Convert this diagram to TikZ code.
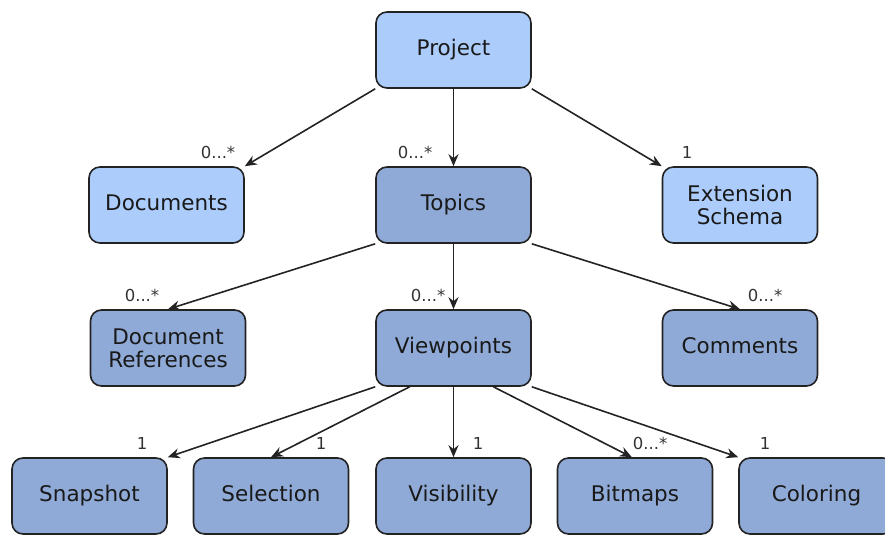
\documentclass[tikz,border=0pt]{standalone}
\usepackage{fontspec}
\setmainfont{DejaVu Sans}
\usetikzlibrary{arrows.meta,calc}
\definecolor{lightbox}{RGB}{172,204,252}
\definecolor{darkbox}{RGB}{143,170,214}
\definecolor{edge}{RGB}{35,35,35}
\begin{document}
\begin{tikzpicture}[x=1pt,y=-1pt,
  box/.style={draw=edge,line width=1.6pt,rounded corners=11pt,minimum width=155pt,minimum height=76pt,inner sep=0pt,align=center,font=\fontsize{21.5}{23}\selectfont,text=black!90},
  lbox/.style={box,fill=lightbox},
  dbox/.style={box,fill=darkbox},
  onel/.style={text height=15pt,text depth=4pt},
  conn/.style={draw=edge,line width=1.6pt,-{Stealth[length=12pt,width=10pt]}},
  mult/.style={font=\fontsize{16.5}{16.5}\selectfont,text=black!80,inner sep=0pt}]
\useasboundingbox (0,0) rectangle (885,538);
% row 1
\node[lbox,onel] (proj) at (453.5,50) {Project};
% row 2
\node[lbox,onel] (docs) at (166.5,205) {Documents};
\node[dbox,onel] (topics) at (453.5,205) {Topics};
\node[lbox] (ext) at (740,205) {Extension\\Schema};
% row 3
\node[dbox] (docref) at (168,348) {Document\\References};
\node[dbox,onel] (vp) at (453.5,348) {Viewpoints};
\node[dbox,onel] (comm) at (740,348) {Comments};
% row 4
\node[dbox,onel] (snap) at (89.5,496) {Snapshot};
\node[dbox,onel] (sel) at (271,496) {Selection};
\node[dbox,onel] (vis) at (453.5,496) {Visibility};
\node[dbox,onel] (bmp) at (635,496) {Bitmaps};
\node[dbox,onel] (col) at (816.5,496) {Coloring};
% connectors
\draw[conn] (proj.south west) -- (docs.north east);
\draw[conn] (proj.south) -- (topics.north);
\draw[conn] (proj.south east) -- (ext.north west);
\draw[conn] (topics.south west) -- (docref.north);
\draw[conn] (topics.south) -- (vp.north);
\draw[conn] (topics.south east) -- (comm.north);
\draw[conn] (vp.south west) -- (snap.north east);
\draw[conn] ($(vp.south west)!0.22!(vp.south east)$) -- (sel.north);
\draw[conn] (vp.south) -- (vis.north);
\draw[conn] ($(vp.south west)!0.755!(vp.south east)$) -- ($(bmp.north west)!0.48!(bmp.north east)$);
\draw[conn] (vp.south east) -- (col.north west);
% multiplicities
\node[mult] (m1) at (218,152) {0...*};
\node[mult] (m2) at (415,152) {0...*};
\node[mult] (m3) at (687,152) {1};
\node[mult] (m4) at (142,295) {0...*};
\node[mult] (m5) at (428,295) {0...*};
\node[mult] (m6) at (765,295) {0...*};
\node[mult] (m7) at (142,443) {1};
\node[mult] (m8) at (321,443) {1};
\node[mult] (m9) at (478,443) {1};
\node[mult] (m10) at (650,443) {0...*};
\node[mult] (m11) at (765,443) {1};
\end{tikzpicture}
\end{document}
